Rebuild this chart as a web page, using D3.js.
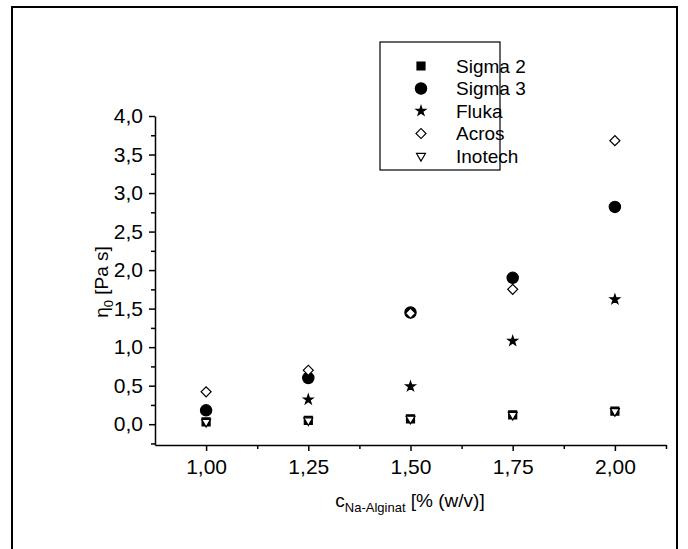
<!DOCTYPE html>
<html>
<head>
<meta charset="utf-8">
<script src="https://cdn.jsdelivr.net/npm/d3@7"></script>
<style>
  body { margin: 0; background: #fff; }
  svg { display: block; font-family: "Liberation Sans", Arial, sans-serif; }
</style>
</head>
<body>
<div id="chart"></div>
<script>
// concentration c (% w/v)
var concentrations = [1.00, 1.25, 1.50, 1.75, 2.00];

// zero-shear viscosity eta0 [Pa s] per sample (null = not visible)
var sigma2  = [0.03, 0.05, 0.07, 0.12, 0.17];
var sigma3  = [0.18, 0.60, 1.45, 1.90, 2.82];
var fluka   = [null, 0.32, 0.49, 1.08, 1.62];
var acros   = [0.42, 0.70, 1.44, 1.75, 3.68];
var inotech = [0.03, 0.05, 0.07, 0.12, 0.17];

var seriesNames = ["Sigma 2", "Sigma 3", "Fluka", "Acros", "Inotech"];
var xTicks = [1.00, 1.25, 1.50, 1.75, 2.00];
var yTicks = [0.0, 0.5, 1.0, 1.5, 2.0, 2.5, 3.0, 3.5, 4.0];

var W = 688, H = 549;
var margin = {top: 116, right: 22, bottom: 104, left: 155};
var width = W - margin.left - margin.right,
    height = H - margin.top - margin.bottom;

var svg = d3.select("#chart").append("svg")
    .attr("width", W)
    .attr("height", H);

// outer frame
svg.append("rect")
    .attr("x", 12).attr("y", 7)
    .attr("width", 665).attr("height", 560)
    .attr("fill", "none")
    .attr("stroke", "#000")
    .attr("stroke-width", 2);

var g = svg.append("g")
    .attr("transform", "translate(" + margin.left + "," + margin.top + ")");

var x = d3.scaleLinear().domain([0.875, 2.125]).range([0, width]);
var y = d3.scaleLinear().domain([-0.27, 4.0]).range([height, 0]);

var comma = function(f) { return function(d) { return d3.format(f)(d).replace(".", ","); }; };

// minor ticks first, then major
g.append("g")
    .attr("transform", "translate(0," + height + ")")
    .call(d3.axisBottom(x).tickValues(d3.range(1.125, 2.126, 0.25)).tickSize(4).tickFormat(""))
    .call(function(a) { a.select(".domain").remove(); });
g.append("g")
    .attr("class", "xaxis")
    .attr("transform", "translate(0," + height + ")")
    .call(d3.axisBottom(x).tickValues(xTicks).tickSize(6).tickSizeOuter(0).tickPadding(8).tickFormat(comma(".2f")));

g.append("g")
    .call(d3.axisLeft(y).tickValues(d3.range(-0.25, 4.0, 0.5)).tickSize(4).tickFormat(""))
    .call(function(a) { a.select(".domain").remove(); });
g.append("g")
    .attr("class", "yaxis")
    .call(d3.axisLeft(y).tickValues(yTicks).tickSize(6).tickSizeOuter(0).tickPadding(6).tickFormat(comma(".1f")));

g.selectAll(".domain, .tick line").attr("stroke", "#000").attr("stroke-width", 1.5);
g.selectAll(".tick text").attr("font-size", 21).attr("fill", "#000")
    .attr("font-family", "Liberation Sans, Arial, sans-serif");

// axis titles
var xt = svg.append("text")
    .attr("x", 410).attr("y", 507)
    .attr("text-anchor", "middle")
    .attr("font-size", 19);
xt.append("tspan").text("c");
xt.append("tspan").attr("font-size", 13).attr("dy", 5).text("Na-Alginat");
xt.append("tspan").attr("dy", -5).text(" [% (w/v)]");

var yt = svg.append("text")
    .attr("transform", "translate(108,282) rotate(-90)")
    .attr("text-anchor", "middle")
    .attr("font-size", 19);
yt.append("tspan").text("η");
yt.append("tspan").attr("font-size", 13).attr("dy", 5).text("0");
yt.append("tspan").attr("dy", -5).text(" [Pa s]");

// marker shapes
var symbols = {
  "Sigma 2": {path: d3.symbol(d3.symbolSquare, 64)(), rot: 0, fill: "#000"},
  "Sigma 3": {path: d3.symbol(d3.symbolCircle, 100)(), rot: 0, fill: "#000"},
  "Fluka":   {path: d3.symbol(d3.symbolStar, 28)(), rot: 0, fill: "#000"},
  "Acros":   {path: d3.symbol(d3.symbolSquare, 50)(), rot: 45, fill: "#fff"},
  "Inotech": {path: d3.symbol(d3.symbolTriangle, 34)(), rot: 180, fill: "#fff"}
};

var seriesValues = [sigma2, sigma3, fluka, acros, inotech];
var series = seriesNames.map(function(name, i) {
  return {name: name, points: concentrations.map(function(c, j) { return {x: c, y: seriesValues[i][j]}; })
      .filter(function(p) { return p.y != null; })};
});

g.selectAll("g.series")
  .data(series)
  .enter().append("g")
    .attr("class", "series")
  .each(function(s) {
    var sym = symbols[s.name];
    d3.select(this).selectAll("path")
      .data(s.points)
      .enter().append("path")
        .attr("d", sym.path)
        .attr("transform", function(d) { return "translate(" + x(d.x) + "," + y(d.y) + ") rotate(" + sym.rot + ")"; })
        .attr("fill", sym.fill)
        .attr("stroke", "#000")
        .attr("stroke-width", 1.2);
  });

// legend
var legend = svg.append("g").attr("transform", "translate(380,42)");
legend.append("rect")
    .attr("width", 120).attr("height", 128)
    .attr("fill", "#fff").attr("stroke", "#000").attr("stroke-width", 1.2);

var rowY = d3.scalePoint().domain(seriesNames).range([24, 114]);
var rows = legend.selectAll("g.row")
  .data(seriesNames)
  .enter().append("g")
    .attr("class", "row")
    .attr("transform", function(d) { return "translate(0," + rowY(d) + ")"; });
rows.append("path")
    .attr("d", function(d) { return symbols[d].path; })
    .attr("transform", function(d) { return "translate(41,0) rotate(" + symbols[d].rot + ")"; })
    .attr("fill", function(d) { return symbols[d].fill; })
    .attr("stroke", "#000")
    .attr("stroke-width", 1.2);
rows.append("text")
    .attr("x", 76).attr("dy", "0.35em")
    .attr("font-size", 19)
    .text(function(d) { return d; });
</script>
</body>
</html>
